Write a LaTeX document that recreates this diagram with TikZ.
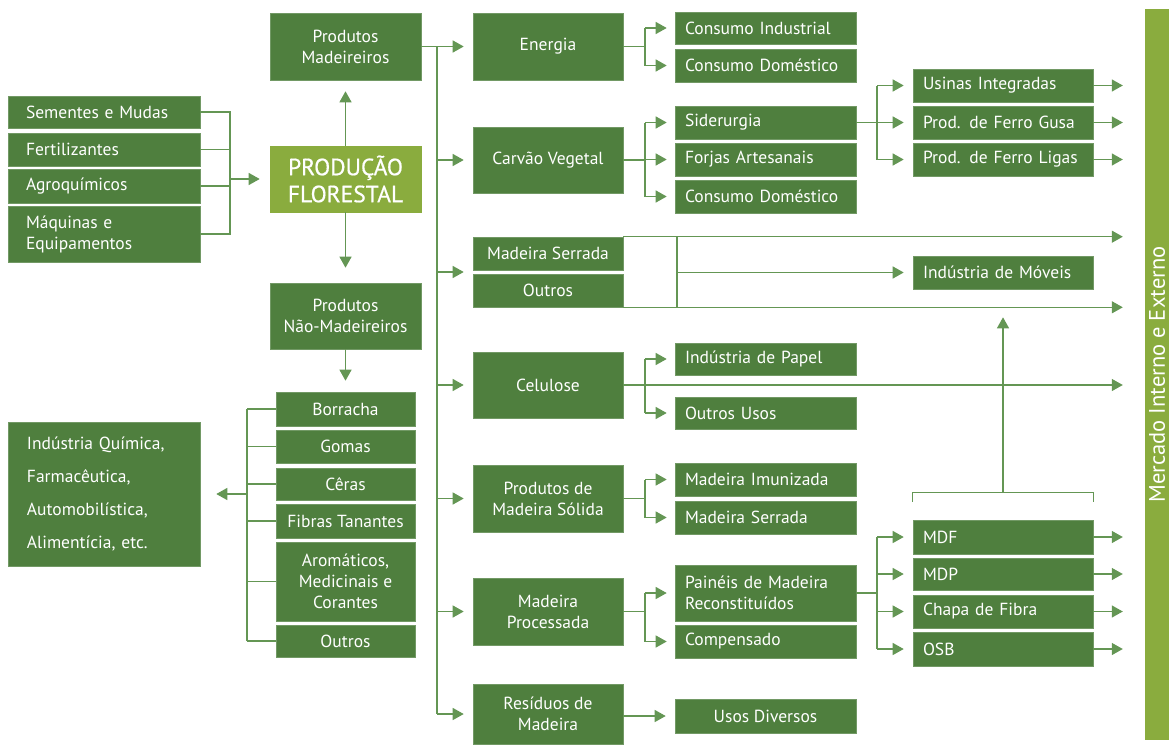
\documentclass[tikz,border=0pt]{standalone}
\usepackage{fontspec}
\setmainfont{PT Sans}
\usetikzlibrary{arrows.meta,calc}
\definecolor{dkgreen}{RGB}{79,127,62}
\definecolor{ltgreen}{RGB}{138,172,62}
\definecolor{lngreen}{RGB}{100,150,84}
\begin{document}
\begin{tikzpicture}[x=1pt,y=-1pt,
 every node/.style={font=\fontsize{17.5}{21}\selectfont, text=white},
 bx/.style={rectangle, fill=dkgreen, draw=dkgreen!80!white, line width=0.6pt, inner sep=0pt, align=center},
 bxl/.style={bx, inner xsep=10pt, text width=#1, align=left},
 ln/.style={draw=lngreen, line width=1.3pt},
 arr/.style={ln, -{Triangle[length=11pt,width=12pt]}},
]
\useasboundingbox (0,0) rectangle (1169,744);

% left inputs
\node[bxl=156pt, inner xsep=18pt, minimum height=32pt] (sem) at (104,112) {Sementes e Mudas};
\node[bxl=156pt, inner xsep=18pt, minimum height=33pt] (fer) at (104,149.5) {Fertilizantes};
\node[bxl=156pt, inner xsep=18pt, minimum height=34pt] (agr) at (104,186) {Agroquímicos};
\node[bxl=156pt, inner xsep=18pt, minimum height=56pt] (maq) at (104,234) {Máquinas e\\Equipamentos};

% centre
\node[bx, fill=ltgreen, draw=ltgreen, minimum width=151pt, minimum height=66pt, font=\fontsize{23.5}{27}\selectfont\addfontfeatures{FakeBold=0.6}] (prod) at (345.5,179) {PRODUÇÃO\\FLORESTAL};
\node[bx, minimum width=151pt, minimum height=67pt] (pm) at (345.5,46.5) {Produtos\\Madeireiros};
\node[bx, minimum width=151pt, minimum height=66pt] (pnm) at (345.5,316) {Produtos\\Não-Madeireiros};

% non-wood products
\node[bx, minimum width=139pt, minimum height=34pt] (bor) at (345.5,409) {Borracha};
\node[bx, minimum width=139pt, minimum height=33pt] (gom) at (345.5,446.5) {Gomas};
\node[bx, minimum width=139pt, minimum height=32pt] (cer) at (345.5,484) {Cêras};
\node[bx, minimum width=139pt, minimum height=34pt] (fib) at (345.5,521) {Fibras Tanantes};
\node[bx, minimum width=139pt, minimum height=79pt] (aro) at (345.5,581.5) {Aromáticos,\\Medicinais e\\Corantes};
\node[bx, minimum width=139pt, minimum height=32pt] (out1) at (345.5,641) {Outros};
\node[bxl=154pt, inner xsep=19pt, minimum height=144pt, font=\fontsize{17.5}{33}\selectfont] (iq) at (104,494) {Indústria Química,\\Farmacêutica,\\Automobilística,\\Alimentícia, etc.};

% second column
\node[bx, minimum width=150pt, minimum height=67pt] (en) at (548,46.5) {Energia};
\node[bx, minimum width=150pt, minimum height=66pt] (cv) at (548,160) {Carvão Vegetal};
\node[bx, minimum width=150pt, minimum height=33pt] (ms1) at (548,253.5) {Madeira Serrada};
\node[bx, minimum width=150pt, minimum height=33pt] (ou2) at (548,290.5) {Outros};
\node[bx, minimum width=150pt, minimum height=66pt] (cel) at (548,385) {Celulose};
\node[bx, minimum width=150pt, minimum height=67pt] (pms) at (548,498.5) {Produtos de\\Madeira Sólida};
\node[bx, minimum width=150pt, minimum height=67pt] (mp) at (548,611.5) {Madeira\\Processada};
\node[bx, minimum width=150pt, minimum height=60pt] (rm) at (548,714) {Resíduos de\\Madeira};

% third column
\node[bxl=161pt, minimum height=32pt] (ci) at (765.5,28) {Consumo Industrial};
\node[bxl=161pt, minimum height=33pt] (cd1) at (765.5,65.5) {Consumo Doméstico};
\node[bxl=161pt, minimum height=33pt] (sid) at (765.5,122.5) {Siderurgia};
\node[bxl=161pt, minimum height=33pt] (fa) at (765.5,159.5) {Forjas Artesanais};
\node[bxl=161pt, minimum height=33pt] (cd2) at (765.5,196.5) {Consumo Doméstico};
\node[bxl=161pt, minimum height=32pt] (ip) at (765.5,359) {Indústria de Papel};
\node[bxl=161pt, minimum height=32pt] (ouu) at (765.5,413) {Outros Usos};
\node[bxl=161pt, minimum height=33pt] (mi) at (765.5,479.5) {Madeira Imunizada};
\node[bxl=161pt, minimum height=33pt] (ms2) at (765.5,517.5) {Madeira Serrada};
\node[bxl=161pt, minimum height=56pt] (pmr) at (765.5,593) {Painéis de Madeira\\Reconstituídos};
\node[bxl=161pt, minimum height=33pt] (comp) at (765.5,641.5) {Compensado};
\node[bx, minimum width=181pt, minimum height=34pt] (ud) at (765.5,716) {Usos Diversos};

% fourth column
\node[bxl=160pt, minimum height=33pt] (ui) at (1003,85.5) {Usinas Integradas};
\node[bxl=160pt, minimum height=33pt] (fg) at (1003,122.5) {Prod. de Ferro Gusa};
\node[bxl=160pt, minimum height=33pt] (fl) at (1003,159.5) {Prod. de Ferro Ligas};
\node[bxl=160pt, minimum height=33pt] (im) at (1003,272.5) {Indústria de Móveis};
\node[bxl=160pt, minimum height=34pt] (mdf) at (1003,537) {MDF};
\node[bxl=160pt, minimum height=32pt] (mdp) at (1003,574) {MDP};
\node[bxl=160pt, minimum height=33pt] (cf) at (1003,611.5) {Chapa de Fibra};
\node[bxl=160pt, minimum height=34pt] (osb) at (1003,649) {OSB};

% market bar
\node[fill=ltgreen, rotate=90, minimum width=731pt, minimum height=24pt, inner sep=0pt, font=\fontsize{22.5}{25}\selectfont] (bar) at (1157,374.5) {Mercado Interno e Externo};

% coordinates of bracket spines
\coordinate (bl) at (230,0);
\coordinate (b2) at (247,0);
\coordinate (tk) at (437,0);
\coordinate (b3) at (645,0);
\coordinate (b5) at (677,0);
\coordinate (b4) at (877,0);

% inputs bracket
\draw[ln] (sem.east) -- (sem.east -| bl) -- (maq.east -| bl) -- (maq.east);
\draw[ln] (fer.east) -- (fer.east -| bl);
\draw[ln] (agr.east) -- (agr.east -| bl);
\draw[arr, shorten >=10pt] (bl |- prod.west) -- (prod.west);

% centre arrows
\draw[arr, shorten >=11pt] (prod.north) -- (pm.south);
\draw[arr, shorten >=15pt] (prod.south) -- (pnm.north);
\draw[arr, shorten >=11pt] (pnm.south) -- (pnm.south |- bor.north);

% non-wood bracket
\draw[ln] (b2 |- bor.west) -- (b2 |- out1.west);
\foreach \n in {bor,gom,cer,fib,aro,out1} \draw[ln] (b2 |- \n.west) -- (\n.west);
\draw[arr, shorten >=16pt] (b2 |- iq.east) -- (iq.east);

% trunk
\draw[ln] (pm.east) -- (tk |- pm.east) -- (tk |- rm.west);
\foreach \n in {en,cv,cel,pms,mp,rm} \draw[arr, shorten >=9pt] (tk |- \n.west) -- (\n.west);
\coordinate (msou) at ($(ms1.south west)!0.5!(ou2.north west)$);
\draw[arr, shorten >=9pt] (tk |- msou) -- (msou);

% energia
\draw[ln] (en.east) -- (b3 |- en.east);
\draw[ln] (b3 |- ci.west) -- (b3 |- cd1.west);
\foreach \n in {ci,cd1} \draw[arr, shorten >=8pt] (b3 |- \n.west) -- (\n.west);

% carvao
\draw[ln] (cv.east) -- (b3 |- cv.east);
\draw[ln] (b3 |- sid.west) -- (b3 |- cd2.west);
\foreach \n in {sid,fa,cd2} \draw[arr, shorten >=8pt] (b3 |- \n.west) -- (\n.west);

% siderurgia
\draw[ln] (sid.east) -- (b4 |- sid.east);
\draw[ln] (b4 |- ui.west) -- (b4 |- fl.west);
\foreach \n in {ui,fg,fl} \draw[arr, shorten >=9pt] (b4 |- \n.west) -- (\n.west);

% madeira serrada / outros
\draw[arr, shorten >=22pt] (ms1.north east) -- (ms1.north east -| bar.north);
\draw[arr, shorten >=22pt] (ou2.south east) -- (ou2.south east -| bar.north);
\draw[ln] (b5 |- ms1.north east) -- (b5 |- ou2.south east);
\draw[arr, shorten >=9pt] (b5 |- im.west) -- (im.west);

% celulose
\draw[arr, shorten >=22pt] (cel.east) -- (cel.east -| bar.north);
\draw[ln] (b3 |- ip.west) -- (b3 |- ouu.west);
\foreach \n in {ip,ouu} \draw[arr, shorten >=8pt] (b3 |- \n.west) -- (\n.west);

% madeira solida
\draw[ln] (pms.east) -- (b3 |- pms.east);
\draw[ln] (b3 |- mi.west) -- (b3 |- ms2.west);
\foreach \n in {mi,ms2} \draw[arr, shorten >=8pt] (b3 |- \n.west) -- (\n.west);

% madeira processada
\draw[ln] (mp.east) -- (b3 |- mp.east);
\draw[ln] (b3 |- pmr.west) -- (b3 |- comp.west);
\foreach \n in {pmr,comp} \draw[arr, shorten >=8pt] (b3 |- \n.west) -- (\n.west);

% paineis
\draw[ln] (pmr.east) -- (b4 |- pmr.east);
\draw[ln] (b4 |- mdf.west) -- (b4 |- osb.west);
\foreach \n in {mdf,mdp,cf,osb} \draw[arr, shorten >=9pt] (b4 |- \n.west) -- (\n.west);

% residuos
\draw[arr, shorten >=9pt] (rm.east |- ud.west) -- (ud.west);

% panels to moveis
\draw[ln] ([yshift=18pt]mdf.north west) -- ([yshift=27pt]mdf.north west) -- ([yshift=27pt]mdf.north east) -- ([yshift=18pt]mdf.north east);
\draw[arr, shorten >=28pt] ([yshift=27pt]mdf.north) -- (im.south);

% outputs to market
\foreach \n in {ui,fg,fl,mdf,mdp,cf,osb} \draw[arr, shorten >=22pt] (\n.east) -- (\n.east -| bar.north);
\end{tikzpicture}
\end{document}
